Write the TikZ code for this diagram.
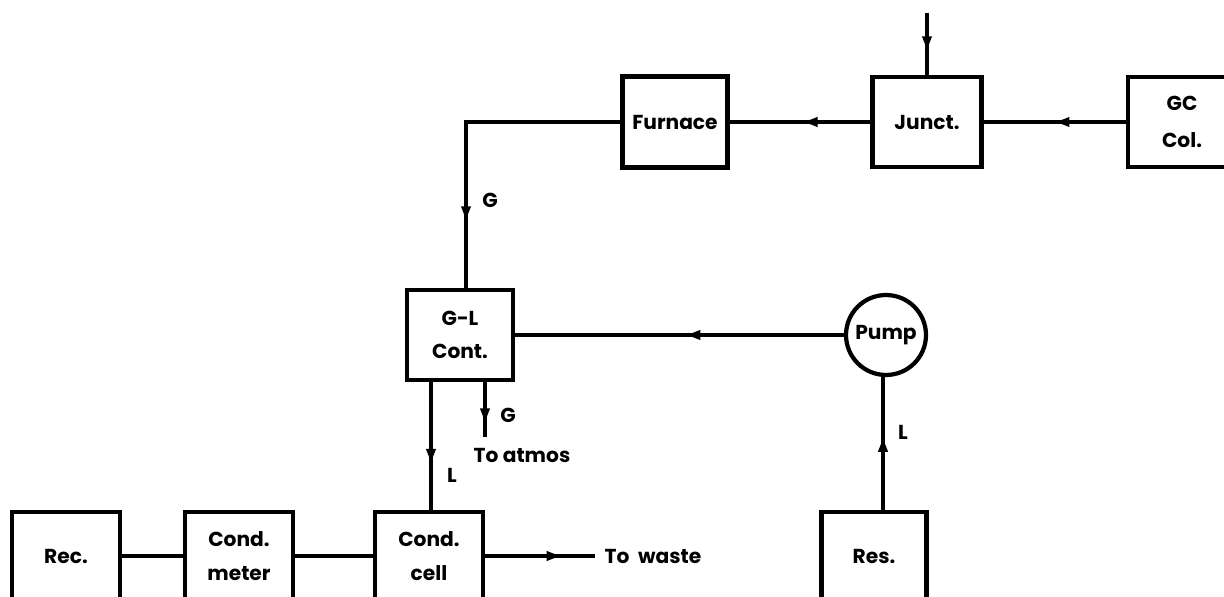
\documentclass[tikz,border=0pt]{standalone}
\usepackage{fontspec}
\setmainfont{Poppins}
\usetikzlibrary{arrows.meta,positioning,calc,decorations.markings}

\newcommand{\unitfont}{\fontsize{11.5}{14}\selectfont\bfseries}

\begin{document}
\begin{tikzpicture}[x=0.02cm, y=-0.02cm,
    unit/.style={draw, line width=2.4pt, minimum width=2.16cm, minimum height=1.8cm, inner sep=0pt, align=center, font=\unitfont},
    lowunit/.style={unit, minimum height=1.76cm},
    pipe/.style={line width=1.9pt},
    flowat/.style={pipe, postaction={decorate, decoration={markings, mark=at position #1 with {\arrow{Latex[length=10pt,width=6pt]}}}}},
    tag/.style={font=\unitfont}]
    \useasboundingbox (0,0) rectangle (1224,597);
    \clip (0,0) rectangle (1224,597);

    % Top row: column, junction, furnace
    \node[unit, minimum width=2.1cm, minimum height=1.82cm] (furnace) at (675,122) {Furnace};
    \node[unit, minimum width=2.18cm] (junct) at (927,122) {Junct.};
    \node[unit] (gccol) at (1182,122) {GC\\[7pt]Col.};
    \coordinate (inlet) at (927,13);

    % Contactor and pump
    \node[unit, minimum width=2.12cm] (glcont) at (460,335) {G-L\\[5pt]Cont.};
    \node[draw, circle, line width=2.4pt, minimum size=1.6cm, inner sep=0pt, font=\unitfont] (pump) at (886,335) {Pump};
    \coordinate (gin) at (466,0);
    \coordinate (lout) at (431,0);
    \coordinate (gout) at (485,0);
    \coordinate (atmos) at (485,437);
    \coordinate (lres) at (883,0);

    % Bottom row
    \node[lowunit] (rec) at (66,556) {Rec.};
    \node[lowunit] (condmeter) at (239,556) {Cond.\\[5pt]meter};
    \node[lowunit] (condcell) at (429,556) {Cond.\\[5pt]cell};
    \node[lowunit, minimum width=2.1cm] (res) at (874,556) {Res.};
    \coordinate (waste) at (595,556);

    % Gas path
    \draw[flowat=0.66] (inlet) -- (junct.north);
    \draw[flowat=0.52] (gccol.west) -- (junct.east);
    \draw[flowat=0.5] (junct.west) -- (furnace.east);
    \draw[flowat=0.8] (furnace.west) -| (glcont.north -| gin);
    \node[tag] (glab) at (490,200) {G};

    % Liquid path
    \draw[flowat=0.57] (res.north -| lres) -- (pump.south -| lres);
    \node[tag] (llab) at (903,432) {L};
    \draw[flowat=0.49] (pump.west) -- (glcont.east);
    \draw[flowat=0.66] (glcont.south -| lout) -- (condcell.north -| lout);
    \node[tag] (lcell) at (452,475) {L};
    \draw[flowat=0.8] (glcont.south -| gout) -- (atmos);
    \node[tag] (gatm) at (508,415) {G};
    \node[tag] (toatmos) at (522,455) {To atmos};

    % Detector chain
    \draw[pipe] (rec.east) -- (condmeter.west);
    \draw[pipe] (condmeter.east) -- (condcell.west);
    \draw[flowat=0.72] (condcell.east) -- (waste);
    \node[tag, anchor=west, xshift=2pt] (towaste) at (waste) {To\ \ waste};
\end{tikzpicture}
\end{document}
